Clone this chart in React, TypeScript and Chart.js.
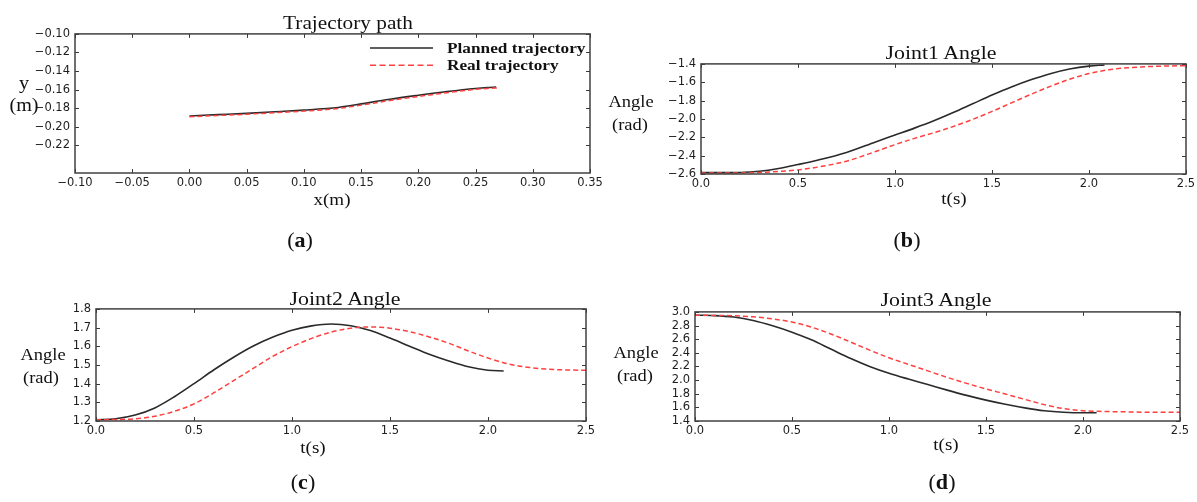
import React, { useEffect, useRef } from 'react';
import { Chart, registerables } from 'chart.js';

Chart.register(...registerables);

// ---------------- data ----------------
// (a) trajectory path  (x in m, y in m)
const PATH_PLANNED_X = [0.0, 0.025, 0.05, 0.075, 0.1, 0.12, 0.13, 0.14, 0.15, 0.175, 0.2, 0.225, 0.25, 0.26, 0.268];
const PATH_PLANNED_Y = [-0.1885, -0.1871, -0.1857, -0.184, -0.1822, -0.1805, -0.1793, -0.1775, -0.1755, -0.1705, -0.1662, -0.1622, -0.1588, -0.1578, -0.1573];
const PATH_REAL_X = [0.0, 0.025, 0.05, 0.075, 0.1, 0.12, 0.13, 0.14, 0.15, 0.175, 0.2, 0.225, 0.25, 0.26, 0.27];
const PATH_REAL_Y = [-0.1893, -0.188, -0.1866, -0.185, -0.1832, -0.1816, -0.1804, -0.1787, -0.1768, -0.1718, -0.1675, -0.1634, -0.1598, -0.1588, -0.1582];

// (b) joint 1 angle (rad) vs t (s)
const J1_PLANNED_T = [0, 0.1, 0.2, 0.3, 0.4, 0.5, 0.6, 0.75, 0.9, 1.0, 1.1, 1.2, 1.3, 1.4, 1.5, 1.6, 1.7, 1.8, 1.9, 2.0, 2.08];
const J1_PLANNED = [-2.585, -2.585, -2.583, -2.57, -2.54, -2.497, -2.45, -2.365, -2.25, -2.175, -2.1, -2.02, -1.93, -1.835, -1.74, -1.652, -1.574, -1.507, -1.456, -1.424, -1.412];
const J1_REAL_T = [0, 0.2, 0.3, 0.4, 0.5, 0.6, 0.75, 0.9, 1.0, 1.1, 1.25, 1.4, 1.5, 1.6, 1.7, 1.8, 1.9, 2.0, 2.1, 2.2, 2.3, 2.4, 2.5];
const J1_REAL = [-2.59, -2.588, -2.583, -2.572, -2.555, -2.525, -2.46, -2.355, -2.28, -2.212, -2.118, -2.005, -1.918, -1.825, -1.732, -1.645, -1.567, -1.505, -1.465, -1.442, -1.43, -1.423, -1.42];

// (c) joint 2 angle
const J2_PLANNED_T = [0, 0.1, 0.2, 0.3, 0.4, 0.5, 0.6, 0.7, 0.8, 0.9, 1.0, 1.1, 1.2, 1.3, 1.4, 1.5, 1.6, 1.7, 1.8, 1.9, 2.0, 2.08];
const J2_PLANNED = [1.207, 1.212, 1.232, 1.27, 1.33, 1.4, 1.473, 1.54, 1.6, 1.648, 1.686, 1.709, 1.719, 1.71, 1.684, 1.644, 1.6, 1.557, 1.521, 1.49, 1.472, 1.468];
const J2_REAL_T = [0, 0.1, 0.2, 0.3, 0.4, 0.5, 0.6, 0.7, 0.8, 0.9, 1.0, 1.1, 1.2, 1.3, 1.37, 1.45, 1.5, 1.6, 1.7, 1.8, 1.9, 2.0, 2.1, 2.2, 2.3, 2.4, 2.5];
const J2_REAL = [1.207, 1.208, 1.212, 1.225, 1.252, 1.292, 1.35, 1.415, 1.48, 1.545, 1.598, 1.642, 1.676, 1.697, 1.703, 1.702, 1.697, 1.678, 1.65, 1.616, 1.575, 1.537, 1.506, 1.488, 1.478, 1.473, 1.472];

// (d) joint 3 angle
const J3_PLANNED_T = [0, 0.1, 0.2, 0.3, 0.4, 0.5, 0.6, 0.7, 0.8, 0.9, 1.0, 1.1, 1.2, 1.3, 1.4, 1.5, 1.6, 1.7, 1.8, 1.9, 2.0, 2.07];
const J3_PLANNED = [2.951, 2.946, 2.925, 2.875, 2.797, 2.703, 2.59, 2.455, 2.32, 2.2, 2.1, 2.015, 1.935, 1.853, 1.776, 1.706, 1.645, 1.592, 1.55, 1.528, 1.52, 1.52];
const J3_REAL_T = [0, 0.2, 0.3, 0.4, 0.5, 0.6, 0.7, 0.8, 0.9, 1.0, 1.1, 1.2, 1.3, 1.4, 1.5, 1.6, 1.7, 1.8, 1.9, 2.0, 2.1, 2.2, 2.3, 2.4, 2.5];
const J3_REAL = [2.951, 2.943, 2.928, 2.897, 2.852, 2.777, 2.677, 2.56, 2.44, 2.327, 2.231, 2.135, 2.04, 1.952, 1.87, 1.795, 1.717, 1.64, 1.582, 1.55, 1.54, 1.535, 1.53, 1.528, 1.527];

// axis ranges: [min, max, step, decimals]
const PATH_X_AXIS = [-0.1, 0.35, 0.05, 2];
const PATH_Y_AXIS = [-0.25, -0.1, 0.02, 2];
const TIME_AXIS = [0, 2.5, 0.5, 1];
const J1_Y_AXIS = [-2.6, -1.4, 0.2, 1];
const J2_Y_AXIS = [1.2, 1.8, 0.1, 1];
const J3_Y_AXIS = [1.4, 3.0, 0.2, 1];

const LEGEND_LABELS = ['Planned trajectory', 'Real trajectory'];
const TITLES = ['Trajectory path', 'Joint1 Angle', 'Joint2 Angle', 'Joint3 Angle'];

// ---------------- styling ----------------
const PLANNED_COLOR = '#2a2a2a';
const REAL_COLOR = '#ff4040';
const PAD_L = 50;
const PAD_T = 10;
const PAD_R = 22;
const PAD_B = 24;

const zip = (xs: number[], ys: number[]) => xs.map((x, i) => ({ x, y: ys[i] }));

const fmt = (v: number, dec: number) => {
  const s = Math.abs(v).toFixed(dec);
  return (v < 0 && Number(s) !== 0 ? '\u2212' : '') + s;
};

const framePlugin = {
  id: 'mplFrame',
  afterDatasetsDraw(chart: any) {
    const { ctx, chartArea: a } = chart;
    const xs = chart.scales.x;
    const ys = chart.scales.y;
    const len = 4;
    ctx.save();
    ctx.strokeStyle = '#3a3a3a';
    ctx.lineWidth = 1;
    ctx.beginPath();
    xs.ticks.forEach((t: any) => {
      if (!t.label) return;
      const p = Math.round(xs.getPixelForValue(t.value)) + 0.5;
      ctx.moveTo(p, a.bottom);
      ctx.lineTo(p, a.bottom - len);
      ctx.moveTo(p, a.top);
      ctx.lineTo(p, a.top + len);
    });
    ys.ticks.forEach((t: any) => {
      if (!t.label) return;
      const p = Math.round(ys.getPixelForValue(t.value)) + 0.5;
      ctx.moveTo(a.left, p);
      ctx.lineTo(a.left + len, p);
      ctx.moveTo(a.right, p);
      ctx.lineTo(a.right - len, p);
    });
    ctx.stroke();
    ctx.lineWidth = 1.5;
    ctx.strokeStyle = '#404040';
    ctx.strokeRect(a.left, a.top, a.right - a.left, a.bottom - a.top);
    ctx.restore();
  },
};

const legendPlugin = {
  id: 'pathLegend',
  afterDraw(chart: any) {
    const { ctx, chartArea: a } = chart;
    const items = [
      { label: LEGEND_LABELS[0], color: PLANNED_COLOR, dash: [] as number[] },
      { label: LEGEND_LABELS[1], color: REAL_COLOR, dash: [6, 3.5] },
    ];
    items.forEach((it, i) => {
      const y = a.top + 14 + i * 17.3;
      ctx.save();
      ctx.strokeStyle = it.color;
      ctx.lineWidth = 1.5;
      ctx.setLineDash(it.dash);
      ctx.beginPath();
      ctx.moveTo(a.left + 295, y);
      ctx.lineTo(a.left + 358, y);
      ctx.stroke();
      ctx.setLineDash([]);
      ctx.font = 'bold 15px "Liberation Serif"';
      ctx.fillStyle = '#111';
      ctx.textBaseline = 'middle';
      ctx.translate(a.left + 372, y + 1);
      ctx.scale(1.15, 1);
      ctx.fillText(it.label, 0, 0);
      ctx.restore();
    });
  },
};

type Spec = {
  rect: number[];
  xAxis: number[];
  yAxis: number[];
  planned: { x: number; y: number }[];
  real: { x: number; y: number }[];
  legend?: boolean;
};

const SPECS: Spec[] = [
  { rect: [75, 32, 590, 173], xAxis: PATH_X_AXIS, yAxis: PATH_Y_AXIS, planned: zip(PATH_PLANNED_X, PATH_PLANNED_Y), real: zip(PATH_REAL_X, PATH_REAL_Y), legend: true },
  { rect: [701, 62, 1186, 174], xAxis: TIME_AXIS, yAxis: J1_Y_AXIS, planned: zip(J1_PLANNED_T, J1_PLANNED), real: zip(J1_REAL_T, J1_REAL) },
  { rect: [96, 307, 586, 421], xAxis: TIME_AXIS, yAxis: J2_Y_AXIS, planned: zip(J2_PLANNED_T, J2_PLANNED), real: zip(J2_REAL_T, J2_REAL) },
  { rect: [695, 310, 1180, 421], xAxis: TIME_AXIS, yAxis: J3_Y_AXIS, planned: zip(J3_PLANNED_T, J3_PLANNED), real: zip(J3_REAL_T, J3_REAL) },
];

const tickFont = { family: '"DejaVu Sans"', size: 11.5 };

function axis(range: number[], isY: boolean) {
  const [min, max, step, dec] = range;
  return {
    type: 'linear' as const,
    min,
    max,
    grid: { display: false, drawTicks: false },
    border: { display: false },
    ticks: {
      stepSize: step,
      autoSkip: false,
      maxRotation: 0,
      padding: isY ? 5 : 3,
      color: '#1e1e1e',
      font: tickFont,
      callback: (v: any) => {
        const n = Number(v);
        const k = n / step;
        if (Math.abs(k - Math.round(k)) > 1e-6) return '';
        return fmt(n, dec);
      },
    },
    afterFit: (scale: any) => {
      if (isY) scale.width = PAD_L;
      else scale.height = PAD_B;
    },
  };
}

function Panel({ spec }: { spec: Spec }) {
  const ref = useRef<HTMLCanvasElement>(null);
  const [L, T, R, B] = spec.rect;
  const w = R - L + PAD_L + PAD_R;
  const h = B - T + PAD_T + PAD_B;
  useEffect(() => {
    const chart = new Chart(ref.current as HTMLCanvasElement, {
      type: 'line',
      data: {
        datasets: [
          {
            label: LEGEND_LABELS[0],
            data: spec.planned,
            borderColor: PLANNED_COLOR,
            borderWidth: 1.6,
            pointRadius: 0,
            fill: false,
            cubicInterpolationMode: 'monotone',
            order: 1,
          },
          {
            label: LEGEND_LABELS[1],
            data: spec.real,
            borderColor: REAL_COLOR,
            borderWidth: 1.5,
            borderDash: [5, 3],
            pointRadius: 0,
            fill: false,
            cubicInterpolationMode: 'monotone',
            order: 0,
          },
        ],
      },
      options: {
        responsive: false,
        maintainAspectRatio: false,
        devicePixelRatio: 1,
        animation: false,
        events: [],
        layout: { padding: { top: PAD_T, right: PAD_R, left: 0, bottom: 0 } },
        scales: { x: axis(spec.xAxis, false), y: axis(spec.yAxis, true) },
        plugins: { legend: { display: false }, tooltip: { enabled: false }, title: { display: false } },
      } as any,
      plugins: spec.legend ? [framePlugin, legendPlugin] : [framePlugin],
    });
    return () => chart.destroy();
  }, []);
  return (
    <canvas
      ref={ref}
      width={w}
      height={h}
      style={{ position: 'absolute', left: L - PAD_L, top: T - PAD_T, width: w, height: h }}
    />
  );
}

function Label({ x, y, size, children, scaleX = 1.12, bold = false }: any) {
  return (
    <div
      style={{
        position: 'absolute',
        left: x,
        top: y,
        transform: `translate(-50%, -50%) scaleX(${scaleX})`,
        fontFamily: '"Liberation Serif", "Times New Roman", serif',
        fontSize: size,
        fontWeight: bold ? 700 : 400,
        whiteSpace: 'nowrap',
        lineHeight: 1,
        color: '#111',
      }}
    >
      {children}
    </div>
  );
}

function Caption({ x, y, letter }: any) {
  return (
    <Label x={x} y={y} size={21} scaleX={1.05}>
      (<b>{letter}</b>)
    </Label>
  );
}

export default function App() {
  return (
    <div style={{ position: 'fixed', left: 0, top: 0, width: 1197, height: 502, background: '#fff', overflow: 'hidden' }}>
      {SPECS.map((s, i) => (
        <Panel key={i} spec={s} />
      ))}
      {/* titles */}
      <Label x={348} y={22} size={19} scaleX={1.12}>{TITLES[0]}</Label>
      <Label x={941} y={52} size={19} scaleX={1.15}>{TITLES[1]}</Label>
      <Label x={345} y={298} size={19} scaleX={1.15}>{TITLES[2]}</Label>
      <Label x={936} y={299} size={19} scaleX={1.15}>{TITLES[3]}</Label>
      {/* panel a axis labels */}
      <Label x={24} y={83} size={18}>y</Label>
      <Label x={24} y={105} size={18}>(m)</Label>
      <Label x={332} y={199} size={17}>x(m)</Label>
      {/* panel b */}
      <Label x={631} y={102} size={16.5}>Angle</Label>
      <Label x={630} y={125} size={16.5}>(rad)</Label>
      <Label x={954} y={198} size={17}>t(s)</Label>
      {/* panel c */}
      <Label x={43} y={355} size={16.5}>Angle</Label>
      <Label x={41} y={378} size={16.5}>(rad)</Label>
      <Label x={313} y={447} size={17}>t(s)</Label>
      {/* panel d */}
      <Label x={636} y={353} size={16.5}>Angle</Label>
      <Label x={635} y={376} size={16.5}>(rad)</Label>
      <Label x={946} y={444} size={17}>t(s)</Label>
      {/* captions */}
      <Caption x={300} y={240} letter="a" />
      <Caption x={907} y={240} letter="b" />
      <Caption x={303} y={482} letter="c" />
      <Caption x={942} y={482} letter="d" />
    </div>
  );
}
